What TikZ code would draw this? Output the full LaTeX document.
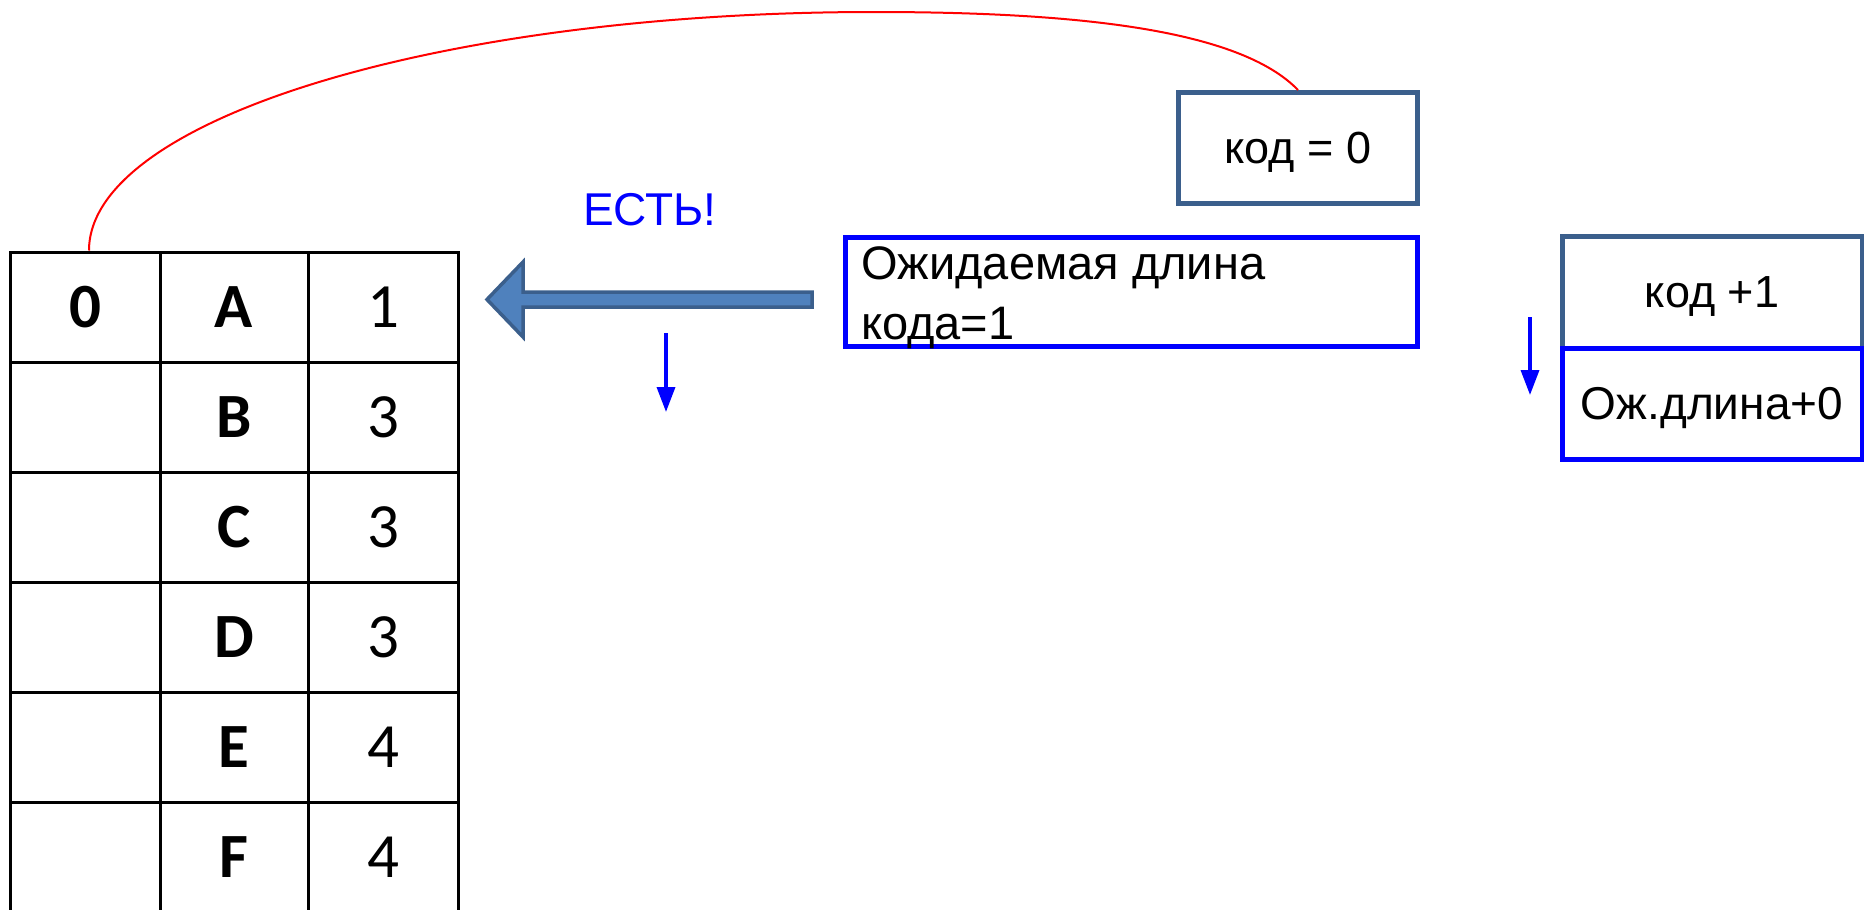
\documentclass[tikz,border=0pt]{standalone}
\usepackage{fontspec}
\setmainfont{Liberation Sans}
\newfontfamily\tabfont{Carlito}
\usetikzlibrary{arrows.meta}
\definecolor{steel}{HTML}{3B5F8C}
\definecolor{arrowfill}{HTML}{4F81BD}
\definecolor{pureblue}{HTML}{0000FF}

\begin{document}
\begin{tikzpicture}[x=1pt,y=-1pt,
  cell/.style={draw=black, line width=3pt, inner sep=0pt, minimum height=110pt,
    font=\tabfont\fontsize{63}{63}\selectfont},
  narrowcell/.style={cell, minimum width=148pt},
  widecell/.style={cell, minimum width=150pt},
  steelbox/.style={draw=steel, line width=5pt, inner sep=0pt, text depth=0pt,
    font=\fontsize{45}{45}\selectfont},
  bluebox/.style={draw=pureblue, line width=5pt, inner sep=0pt, text depth=0pt,
    font=\fontsize{46}{46}\selectfont},
  fatarrow/.style={draw=steel, fill=arrowfill, line width=3.5pt, line join=miter},
  downarrow/.style={draw=pureblue, line width=3.5pt, -{Triangle[length=25pt,width=18pt]}},
  link/.style={draw=red, line width=2pt},
]
\useasboundingbox (0,0) rectangle (1864,910);

% code table: marker, symbol, code length
\node[widecell]   (t1-1) at (85,307)  {\bfseries 0};
\node[narrowcell] (t1-2) at (234,307) {\bfseries A};
\node[widecell]   (t1-3) at (383,307) {1};
\node[widecell]   (t2-1) at (85,417)  {};
\node[narrowcell] (t2-2) at (234,417) {\bfseries B};
\node[widecell]   (t2-3) at (383,417) {3};
\node[widecell]   (t3-1) at (85,527)  {};
\node[narrowcell] (t3-2) at (234,527) {\bfseries C};
\node[widecell]   (t3-3) at (383,527) {3};
\node[widecell]   (t4-1) at (85,637)  {};
\node[narrowcell] (t4-2) at (234,637) {\bfseries D};
\node[widecell]   (t4-3) at (383,637) {3};
\node[widecell]   (t5-1) at (85,747)  {};
\node[narrowcell] (t5-2) at (234,747) {\bfseries E};
\node[widecell]   (t5-3) at (383,747) {4};
\node[widecell]   (t6-1) at (85,857)  {};
\node[narrowcell] (t6-2) at (234,857) {\bfseries F};
\node[widecell]   (t6-3) at (383,857) {4};

% current code and expected length
\node[steelbox, minimum width=238.5pt, minimum height=111pt] (code0) at (1298,148) {код = 0};
\node[bluebox, minimum width=572pt, minimum height=108.5pt] (exp) at (1131.5,291.75) {};
\node[anchor=north west, align=left, inner sep=0pt,
  font=\fontsize{47}{60}\selectfont] (exptext) at (861,246) {Ожидаемая длина\\кода=1};

% found label and fat arrow towards the table
\node[text=pureblue, text depth=0pt, inner sep=0pt, font=\fontsize{46}{46}\selectfont] (found) at (650,209) {ЕСТЬ!};
\draw[fatarrow] (812,292) -- (523,292) -- (523,262) -- (487,299.5) -- (523,337)
  -- (523,307) -- (812,307) -- cycle;

% step-down arrows
\coordinate (d1s) at (666,333);
\coordinate (d1e) at (666,412);
\draw[downarrow] (d1s) -- (d1e);
\coordinate (d2s) at (1530,317);
\coordinate (d2e) at (1530,395);
\draw[downarrow] (d2s) -- (d2e);

% update rule on the right
\node[steelbox, minimum width=300pt, minimum height=112pt] (inc) at (1712,292) {код +1};
\node[bluebox, minimum width=300pt, minimum height=111pt] (len) at (1712,403.5) {Ож.длина+0};

% link from the code box back to the table
\draw[link] ([xshift=4pt]t1-1.north) .. controls +(0,-131) and (440,12) .. (874,12)
  .. controls (1080,12) and (1240,30) .. (code0.north);
\end{tikzpicture}
\end{document}
